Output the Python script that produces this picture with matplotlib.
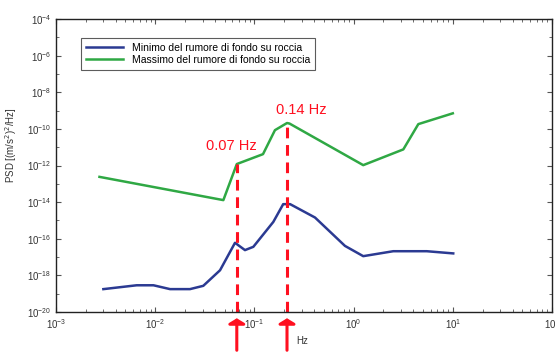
import numpy as np
import matplotlib
matplotlib.use('Agg')
import matplotlib.pyplot as plt
from matplotlib.ticker import NullFormatter

plt.rcParams['font.family'] = ['Liberation Sans', 'DejaVu Sans']

# Minimo del rumore di fondo su roccia (Hz, esponente della PSD)
f_min = [0.0030, 0.0065, 0.0096, 0.0141, 0.0224, 0.0305, 0.045, 0.0637, 0.0803,
         0.0975, 0.155, 0.195, 0.229, 0.408, 0.818, 1.25, 2.51, 5.46, 10.1]
psd_min_exp = [-18.75, -18.54, -18.54, -18.75, -18.75, -18.57, -17.72, -16.22, -16.62,
               -16.44, -15.08, -14.11, -14.11, -14.84, -16.39, -16.95, -16.68, -16.68, -16.80]

# Massimo del rumore di fondo su roccia
f_max = [0.00274, 0.0486, 0.0664, 0.122, 0.161, 0.213, 0.226, 1.25, 3.17, 4.49, 10.0]
psd_max_exp = [-12.62, -13.89, -11.92, -11.38, -10.07, -9.68, -9.71, -11.98, -11.12, -9.74, -9.15]

# frequenze evidenziate
mark_f = [0.0664, 0.213]
mark_labels = ['0.07 Hz', '0.14 Hz']

psd_min = 10.0 ** np.array(psd_min_exp)
psd_max = 10.0 ** np.array(psd_max_exp)

fig = plt.figure(figsize=(5.55, 3.52), dpi=100)
ax = fig.add_axes([0.101, 0.1136, 0.8936, 0.8324])

ax.plot(f_min, psd_min, color='#2b3a92', lw=1.8, label='Minimo del rumore di fondo su roccia')
ax.plot(f_max, psd_max, color='#2fa844', lw=1.8, label='Massimo del rumore di fondo su roccia')

ax.set_xscale('log')
ax.set_yscale('log')
ax.set_xlim(1e-3, 1e2)
ax.set_ylim(1e-20, 1e-4)

ax.set_yticks(10.0 ** np.arange(-20, -3, 2))
ax.set_yticks(10.0 ** np.arange(-19, -4, 2), minor=True)
ax.yaxis.set_minor_formatter(NullFormatter())
ax.tick_params(which='both', direction='in', top=True, right=True, colors='#555555',
               labelcolor='#333333', labelsize=7)
ax.tick_params(which='major', length=3.5)
ax.tick_params(which='minor', length=2)
for s in ax.spines.values():
    s.set_color('#222222')
    s.set_linewidth(1.0)

ax.set_ylabel('PSD [(m/s$^2$)$^2$/Hz]', fontsize=7, color='#333333', labelpad=2)
ax.yaxis.set_label_coords(-0.075, 0.57)
ax.text(0.497, -0.1, 'Hz', transform=ax.transAxes, fontsize=7, color='#333333',
        ha='center', va='center')

# linee tratteggiate, etichette e frecce rosse
trans = ax.get_xaxis_transform()
offsets = [(-4, 13), (10, 9.5)]
for fm, lab, off in zip(mark_f, mark_labels, offsets):
    top = 10 ** np.interp(np.log10(fm), np.log10(f_max), psd_max_exp)
    ax.plot([fm, fm], [1e-20, top], color='#ff1020', lw=2.2, ls=(0, (3.5, 2.2)))
    ax.annotate(lab, xy=(fm, top), xytext=off, textcoords='offset points',
                color='#ff1020', fontsize=10.5, ha='center', va='center')
    ax.annotate('', xy=(fm, -0.012), xycoords=trans, xytext=(fm, -0.14),
                textcoords=trans, annotation_clip=False,
                arrowprops=dict(arrowstyle='-|>,head_length=0.3,head_width=0.5',
                                color='#ff1020', lw=2.2))

leg = ax.legend(loc='upper left', bbox_to_anchor=(0.04, 0.952), fontsize=7.5,
                frameon=True, fancybox=False, edgecolor='#333333', borderpad=0.45,
                handlelength=3.6, labelspacing=0.2)
leg.get_frame().set_linewidth(0.8)

fig.savefig('out.png', dpi=100)
